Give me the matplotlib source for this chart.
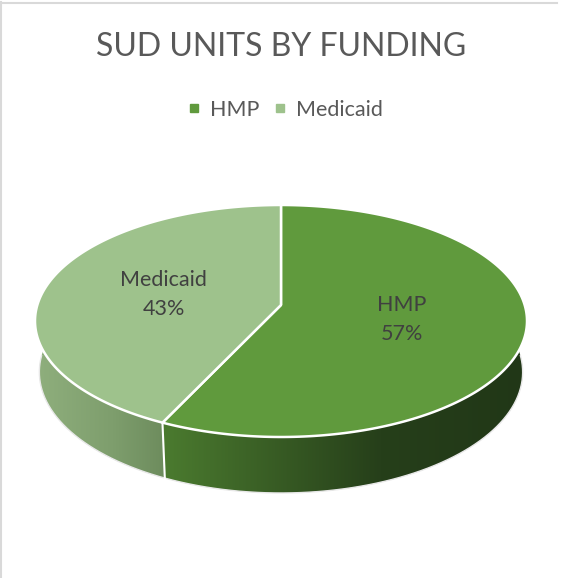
import numpy as np
import matplotlib.pyplot as plt
from matplotlib.patches import Polygon
from matplotlib.lines import Line2D

plt.rcParams['font.family'] = ['Lato', 'DejaVu Sans']

# funding split of SUD units
labels = ['HMP', 'Medicaid']
shares = [57, 43]
title = 'SUD UNITS BY FUNDING'

top_colors = ['#609a3d', '#9ec28c']
# side wall gradients (left stop, middle stop, right stop)
side_colors = [['#4b7b2f', '#263f1a', '#213717'],
               ['#8faf7d', '#7e9e6d', '#6d8c5d']]

# 3-d view of the disc (radius 1)
elev = np.radians(28)
dist = 6.4
thick = 0.241


def project(a, r=1.0, depth=0.0):
    X = r * np.cos(a)
    Z = -r * np.sin(a)
    den = dist - Z * np.cos(elev) + depth * np.sin(elev)
    return X / den, (Z * np.sin(elev) + depth * np.cos(elev)) / den


# scale the projected disc into pixel space
rim_x, rim_y = project(np.linspace(0, 2 * np.pi, 721))
sx = 492 / (rim_x.max() - rim_x.min())
sy = 232 / (rim_y.max() - rim_y.min())
x0 = 281.0
y0 = 205 - sy * rim_y.min()


def to_px(a, r=1.0, depth=0.0):
    x, y = project(a, r, depth)
    return x0 + sx * x, y0 + sy * y


fig = plt.figure(figsize=(5.61, 5.78), dpi=100)
ax = fig.add_axes([0, 0, 1, 1])
ax.set_xlim(0, 561)
ax.set_ylim(578, 0)
ax.axis('off')

# slice angles: start at 12 o'clock, go clockwise
fracs = np.array(shares) / np.sum(shares)
starts = 90 - 360 * np.concatenate([[0], np.cumsum(fracs)[:-1]])
ends = starts - 360 * fracs

# side walls (front half only)
for i in range(len(shares)):
    lo = max(ends[i], -200)
    hi = min(starts[i], 20)
    if lo >= hi:
        continue
    a = np.radians(np.linspace(hi, lo, 200))
    tx, ty = to_px(a)
    bx, by = to_px(a[::-1], depth=thick)
    verts = np.column_stack([np.concatenate([tx, bx]), np.concatenate([ty, by])])
    poly = Polygon(verts, closed=True, facecolor='none', edgecolor='none')
    ax.add_patch(poly)
    xa, xb = verts[:, 0].min(), verts[:, 0].max()
    ya, yb = verts[:, 1].min(), verts[:, 1].max()
    c = [np.array(plt.matplotlib.colors.to_rgb(h)) for h in side_colors[i]]
    t = np.linspace(0, 1, 256)[:, None]
    grad = np.where(t < 0.6, c[0] + (c[1] - c[0]) * t / 0.6,
                    c[1] + (c[2] - c[1]) * (t - 0.6) / 0.4)
    img = ax.imshow(grad[None, :, :], extent=(xa, xb, yb, ya), aspect='auto',
                    interpolation='bilinear', zorder=1)
    img.set_clip_path(poly)

# bottom outline and wall seams
a = np.radians(np.linspace(-180, 0, 200))
bx, by = to_px(a, depth=thick)
ax.plot(bx, by, color='#e8e8e8', lw=1, zorder=2)
for s in starts:
    s = (s + 180) % 360 - 180
    if -180 < s < 0:
        px0, py0 = to_px(np.radians(s))
        px1, py1 = to_px(np.radians(s), depth=thick)
        ax.plot([px0, px1], [py0, py1], color='white', lw=1.5, zorder=2)

# top face wedges
cx, cy = to_px(0.0, r=0.0)
for i in range(len(shares)):
    a = np.radians(np.linspace(starts[i], ends[i], 200))
    wx, wy = to_px(a)
    verts = np.column_stack([np.concatenate([[cx], wx]), np.concatenate([[cy], wy])])
    ax.add_patch(Polygon(verts, closed=True, facecolor=top_colors[i],
                         edgecolor='white', lw=1.8, joinstyle='round', zorder=3))

# data labels
for i in range(len(shares)):
    mid = np.radians((starts[i] + ends[i]) / 2)
    lx, ly = to_px(mid, r=0.5)
    ax.text(lx, ly + 2, f'{labels[i]}\n{shares[i]}%', ha='center', va='center',
            fontsize=15.5, color='#404040', linespacing=1.55, zorder=4)

ax.text(281, 47, title, ha='center', va='center', fontsize=23, color='#595959')

handles = [Line2D([], [], marker='s', ls='', color=c, markersize=6) for c in top_colors]
leg = ax.legend(handles, labels, loc='center', bbox_to_anchor=(284 / 561, 1 - 110 / 578),
                ncol=2, frameon=False, fontsize=15.5, handlelength=0.8,
                handletextpad=0.35, columnspacing=0.55, labelcolor='#595959')

# chart frame
ax.plot([1, 557], [2.5, 2.5], color='#d9d9d9', lw=1.5)
ax.plot([1.5, 1.5], [2, 578], color='#d9d9d9', lw=1.5)

fig.savefig('out.png', dpi=100)
